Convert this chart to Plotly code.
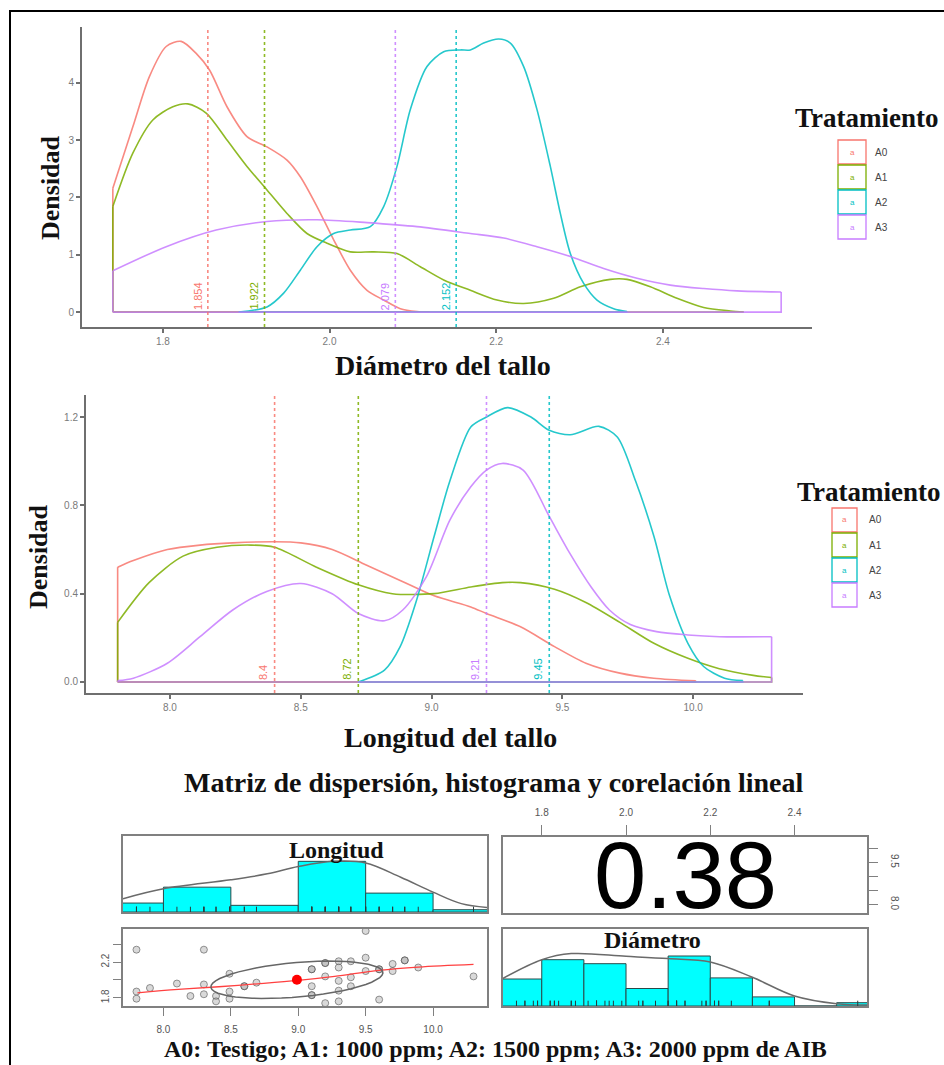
import numpy as np
import plotly.graph_objects as go

W, H = 944, 1065

treatments = ["A0", "A1", "A2", "A3"]
colors = ["#F8766D", "#7CAE00", "#00BFC4", "#C77CFF"]

# ---- Panel 1: density of stem diameter ----
diam_means = [1.854, 1.922, 2.152, 2.079]
diam_mean_labels = ["1.854", "1.922", "2.152", "2.079"]
d_A0_x = [1.740, 1.764, 1.784, 1.804, 1.822, 1.840, 1.856, 1.877, 1.901, 1.925, 1.949, 1.965, 1.985, 2.005, 2.025, 2.045, 2.065, 2.085, 2.105, 2.120]
d_A0_y = [2.16, 3.23, 4.11, 4.63, 4.72, 4.51, 4.22, 3.58, 3.06, 2.88, 2.65, 2.36, 1.84, 1.26, 0.73, 0.38, 0.21, 0.06, 0.01, 0.0]
d_A1_x = [1.740, 1.764, 1.788, 1.812, 1.830, 1.852, 1.877, 1.901, 1.925, 1.949, 1.973, 1.997, 2.025, 2.053, 2.081, 2.109, 2.137, 2.169, 2.201, 2.233, 2.269, 2.301, 2.337, 2.357, 2.385, 2.417, 2.449, 2.481, 2.497]
d_A1_y = [1.84, 2.77, 3.35, 3.58, 3.63, 3.47, 3.00, 2.54, 2.13, 1.72, 1.37, 1.20, 1.05, 1.05, 1.02, 0.79, 0.56, 0.38, 0.21, 0.15, 0.24, 0.44, 0.57, 0.57, 0.44, 0.24, 0.08, 0.02, 0.0]
d_A2_x = [1.891, 1.925, 1.945, 1.965, 1.985, 2.005, 2.025, 2.049, 2.065, 2.081, 2.097, 2.117, 2.137, 2.157, 2.169, 2.185, 2.203, 2.217, 2.233, 2.249, 2.265, 2.277, 2.289, 2.305, 2.321, 2.341, 2.357]
d_A2_y = [0.0, 0.09, 0.33, 0.73, 1.14, 1.37, 1.43, 1.49, 1.84, 2.54, 3.53, 4.28, 4.54, 4.57, 4.57, 4.69, 4.76, 4.69, 4.28, 3.53, 2.54, 1.72, 1.02, 0.50, 0.21, 0.06, 0.01]
d_A3_x = [1.740, 1.804, 1.864, 1.925, 1.985, 2.045, 2.105, 2.169, 2.209, 2.249, 2.289, 2.329, 2.369, 2.409, 2.449, 2.489, 2.542]
d_A3_y = [0.72, 1.14, 1.43, 1.58, 1.61, 1.56, 1.49, 1.37, 1.29, 1.14, 0.97, 0.76, 0.59, 0.47, 0.41, 0.37, 0.35]

# ---- Panel 2: density of stem length ----
long_means = [8.40, 8.72, 9.45, 9.21]
long_mean_labels = ["8.4", "8.72", "9.45", "9.21"]
l_A0_x = [7.80, 7.86, 7.99, 8.115, 8.24, 8.40, 8.50, 8.62, 8.75, 8.88, 9.01, 9.15, 9.21, 9.34, 9.47, 9.59, 9.72, 9.85, 10.01]
l_A0_y = [0.52, 0.55, 0.60, 0.62, 0.63, 0.635, 0.63, 0.60, 0.53, 0.46, 0.39, 0.34, 0.31, 0.25, 0.16, 0.085, 0.04, 0.017, 0.005]
l_A1_x = [7.80, 7.92, 8.05, 8.18, 8.31, 8.40, 8.56, 8.72, 8.85, 9.01, 9.15, 9.27, 9.34, 9.47, 9.59, 9.72, 9.85, 9.98, 10.10, 10.23, 10.30]
l_A1_y = [0.27, 0.45, 0.57, 0.61, 0.62, 0.61, 0.52, 0.44, 0.40, 0.40, 0.43, 0.45, 0.45, 0.42, 0.36, 0.27, 0.175, 0.107, 0.06, 0.03, 0.02]
l_A2_x = [8.72, 8.82, 8.88, 8.94, 9.01, 9.07, 9.15, 9.21, 9.29, 9.38, 9.45, 9.53, 9.64, 9.71, 9.78, 9.85, 9.91, 9.98, 10.04, 10.12, 10.19]
l_A2_y = [0.0, 0.054, 0.16, 0.36, 0.66, 0.91, 1.155, 1.20, 1.243, 1.20, 1.14, 1.12, 1.158, 1.11, 0.91, 0.66, 0.39, 0.175, 0.07, 0.017, 0.006]
l_A3_x = [7.80, 7.86, 7.99, 8.115, 8.24, 8.37, 8.50, 8.62, 8.72, 8.82, 8.89, 8.98, 9.07, 9.15, 9.21, 9.27, 9.35, 9.45, 9.53, 9.61, 9.68, 9.76, 9.86, 9.98, 10.10, 10.30]
l_A3_y = [0.006, 0.017, 0.085, 0.205, 0.326, 0.41, 0.446, 0.40, 0.31, 0.277, 0.326, 0.476, 0.733, 0.884, 0.96, 0.99, 0.96, 0.75, 0.58, 0.43, 0.326, 0.26, 0.228, 0.213, 0.205, 0.205]

diam_ticks = [1.8, 2.0, 2.2, 2.4]
diam_dens_ticks = [0, 1, 2, 3, 4]
long_ticks = [8.0, 8.5, 9.0, 9.5, 10.0]
long_dens_ticks = [0.0, 0.4, 0.8, 1.2]

# ---- Pairs panels ----
long_bin_edges = [7.5, 8.0, 8.5, 9.0, 9.5, 10.0, 10.5]
long_hist = [0.9, 2.5, 0.67, 5.1, 1.9, 0.23]
long_dens_x = [7.70, 8.0, 8.5, 8.77, 9.0, 9.26, 9.5, 9.76, 10.0, 10.21, 10.41]
long_dens_y = [1.34, 2.34, 3.24, 3.84, 4.57, 5.1, 4.94, 3.5, 2.0, 0.84, 0.44]

diam_bin_edges = [1.7, 1.8, 1.9, 2.0, 2.1, 2.2, 2.3, 2.4, 2.5, 2.6]
diam_hist = [2.7, 4.63, 4.23, 1.75, 5.0, 2.81, 0.91, 0.0, 0.33]
diam_dens_x = [1.707, 1.80, 1.87, 2.0, 2.1, 2.2, 2.3, 2.4, 2.5, 2.577]
diam_dens_y = [2.74, 4.63, 5.24, 4.97, 4.74, 4.4, 2.87, 1.0, 0.23, 0.1]

scat_long = [7.80, 7.80, 7.80, 7.90, 8.10, 8.20, 8.30, 8.30, 8.30, 8.39, 8.39, 8.49, 8.49, 8.49,
             8.60, 8.60, 8.69, 9.10, 9.10, 9.10, 9.10, 9.10, 9.20, 9.20, 9.20, 9.20, 9.30, 9.30, 9.30,
             9.30, 9.30, 9.39, 9.39, 9.39, 9.50, 9.50, 9.50, 9.60, 9.60, 9.60, 9.70, 9.70, 9.79, 9.79,
             9.89, 10.30]
scat_diam = [2.34, 1.87, 1.79, 1.91, 1.96, 1.82, 2.34, 1.95, 1.84, 1.82, 1.76, 2.07, 1.87, 1.79,
             1.93, 1.93, 1.97, 2.12, 2.12, 1.93, 1.83, 1.83, 2.19, 2.19, 2.04, 1.74, 2.21, 2.14, 1.99,
             1.88, 1.76, 2.21, 2.03, 1.93, 2.55, 2.25, 2.10, 2.12, 2.12, 1.78, 2.18, 2.10, 2.22, 2.22,
             2.14, 2.04]
smooth_long = [7.807, 8.11, 8.41, 8.70, 9.0, 9.27, 9.60, 9.89, 10.30]
smooth_diam = [1.856, 1.894, 1.924, 1.957, 1.995, 2.04, 2.108, 2.145, 2.175]
mean_long, mean_diam = 8.99, 2.002
sd_long, sd_diam = 0.638, 0.21
r_corr = 0.38

# ---------------------------------------------------------------
SERIF = "Liberation Serif"
SANS = "Liberation Sans"
AX = "#6f6f6f"
TK = "#7a7a7a"
BOX = "#808080"


def xd(a, b):
    return [a / W, b / W]


def yd(top, bot):
    return [1 - bot / H, 1 - top / H]


fig = go.Figure()


def add_density(xs, ys, c, xa, ya):
    # outline closure (vertical edges + baseline)
    fig.add_trace(go.Scatter(x=[xs[0], xs[0], None, xs[-1], xs[-1], xs[0]],
                             y=[ys[0], 0, None, ys[-1], 0, 0], mode="lines",
                             line=dict(color=c, width=1.6), opacity=0.85, showlegend=False,
                             xaxis=xa, yaxis=ya, connectgaps=False))
    fig.add_trace(go.Scatter(x=xs, y=ys, mode="lines", line=dict(color=c, width=1.6, shape="spline", smoothing=0.8),
                             opacity=0.85, showlegend=False, xaxis=xa, yaxis=ya))


diam_curves = [(d_A0_x, d_A0_y), (d_A1_x, d_A1_y), (d_A2_x, d_A2_y), (d_A3_x, d_A3_y)]
long_curves = [(l_A0_x, l_A0_y), (l_A1_x, l_A1_y), (l_A2_x, l_A2_y), (l_A3_x, l_A3_y)]

for c, (xs, ys) in zip(colors, diam_curves):
    add_density(xs, ys, c, "x", "y")
for c, (xs, ys) in zip(colors, long_curves):
    add_density(xs, ys, c, "x2", "y2")

shapes = []
annotations = []

for m, lbl, c in zip(diam_means, diam_mean_labels, colors):
    shapes.append(dict(type="line", xref="x", yref="y domain", x0=m, x1=m, y0=0, y1=1,
                       line=dict(color=c, width=1.6, dash="dot"), opacity=0.85))
    annotations.append(dict(xref="x", yref="y", x=m, y=0, text=lbl, showarrow=False,
                            textangle=-90, xanchor="right", yanchor="bottom", xshift=-2,
                            font=dict(family=SANS, size=11, color=c)))
for m, lbl, c in zip(long_means, long_mean_labels, colors):
    shapes.append(dict(type="line", xref="x2", yref="y2 domain", x0=m, x1=m, y0=0, y1=1,
                       line=dict(color=c, width=1.6, dash="dot"), opacity=0.85))
    annotations.append(dict(xref="x2", yref="y2", x=m, y=0, text=lbl, showarrow=False,
                            textangle=-90, xanchor="right", yanchor="bottom", xshift=-3,
                            font=dict(family=SANS, size=11, color=c)))

# ---- histograms ----
lc = [(a + b) / 2 for a, b in zip(long_bin_edges[:-1], long_bin_edges[1:])]
lw = [b - a for a, b in zip(long_bin_edges[:-1], long_bin_edges[1:])]
fig.add_trace(go.Bar(x=lc, y=long_hist, width=lw, marker=dict(color="#00FFFF", line=dict(color="#2a4a4a", width=1)),
                     showlegend=False, xaxis="x3", yaxis="y3"))
fig.add_trace(go.Scatter(x=long_dens_x, y=long_dens_y, mode="lines", line=dict(color="#6a6a6a", width=1.5, shape="spline"),
                         showlegend=False, xaxis="x3", yaxis="y3"))
fig.add_trace(go.Scatter(x=scat_long, y=[0.25] * len(scat_long), mode="markers",
                         marker=dict(symbol="line-ns-open", size=4, color="#2a3a3a", line=dict(color="#2a3a3a", width=1)),
                         showlegend=False, xaxis="x3", yaxis="y3"))

dc = [(a + b) / 2 for a, b in zip(diam_bin_edges[:-1], diam_bin_edges[1:])]
dw = [b - a for a, b in zip(diam_bin_edges[:-1], diam_bin_edges[1:])]
fig.add_trace(go.Bar(x=dc, y=diam_hist, width=dw, marker=dict(color="#00FFFF", line=dict(color="#2a4a4a", width=1)),
                     showlegend=False, xaxis="x6", yaxis="y6"))
fig.add_trace(go.Scatter(x=diam_dens_x, y=diam_dens_y, mode="lines", line=dict(color="#6a6a6a", width=1.5, shape="spline"),
                         showlegend=False, xaxis="x6", yaxis="y6"))
fig.add_trace(go.Scatter(x=scat_diam, y=[0.25] * len(scat_diam), mode="markers",
                         marker=dict(symbol="line-ns-open", size=4, color="#2a3a3a", line=dict(color="#2a3a3a", width=1)),
                         showlegend=False, xaxis="x6", yaxis="y6"))

# ---- scatter panel ----
fig.add_trace(go.Scatter(x=scat_long, y=scat_diam, mode="markers",
                         marker=dict(symbol="circle", size=7, color="rgba(170,170,170,0.45)",
                                     line=dict(color="rgba(70,70,70,0.55)", width=1)),
                         showlegend=False, xaxis="x5", yaxis="y5"))
fig.add_trace(go.Scatter(x=smooth_long, y=smooth_diam, mode="lines", line=dict(color="#ff4040", width=1.3, shape="spline"),
                         showlegend=False, xaxis="x5", yaxis="y5"))
ang = np.linspace(0, 2 * np.pi, 52)
theta = np.sign(r_corr) / np.sqrt(2)
shape_m = np.diag([np.sqrt(1 + r_corr), np.sqrt(1 - r_corr)]) @ np.array([[theta, theta], [-theta, theta]])
ell = np.column_stack([np.cos(ang), np.sin(ang)]) @ shape_m
fig.add_trace(go.Scatter(x=ell[:, 0] * sd_long + mean_long, y=ell[:, 1] * sd_diam + mean_diam, mode="lines",
                         line=dict(color="#666", width=1.5), showlegend=False, xaxis="x5", yaxis="y5"))
fig.add_trace(go.Scatter(x=[mean_long], y=[mean_diam], mode="markers", marker=dict(color="#ff0000", size=10),
                         showlegend=False, xaxis="x5", yaxis="y5"))

# correlation panel (axes only + text)
fig.add_trace(go.Scatter(x=[None], y=[None], mode="markers", showlegend=False, hoverinfo="skip",
                         xaxis="x4", yaxis="y4"))
annotations.append(dict(xref="x4 domain", yref="y4 domain", x=0.5, y=0.5, text=f"{r_corr:.2f}",
                        showarrow=False, xanchor="center", yanchor="middle",
                        font=dict(family=SANS, size=94, color="#000")))


# ---- axes ----
def dens_x(dom, rng, ticks, fmt):
    return dict(domain=dom, range=rng, showline=True, linecolor=AX, linewidth=2, ticks="outside", ticklen=4,
                tickcolor=AX, tickwidth=1.5, tickvals=ticks, ticktext=[fmt.format(v) for v in ticks],
                tickfont=dict(family=SANS, size=10, color=TK), showgrid=False, zeroline=False)


def box_axis(dom, rng, **kw):
    d = dict(domain=dom, range=rng, showline=True, mirror=True, linecolor=BOX, linewidth=1.5,
             showgrid=False, zeroline=False, ticks="", showticklabels=False)
    d.update(kw)
    return d


tick_kw = dict(ticks="outside", tickcolor=BOX, tickwidth=1, showticklabels=True,
               tickfont=dict(family=SANS, size=10, color="#555"))

fig.update_layout(
    width=W, height=H, margin=dict(l=0, r=0, t=0, b=0),
    paper_bgcolor="white", plot_bgcolor="white", barmode="overlay", showlegend=False,
    xaxis=dict(dens_x(xd(82, 812), [1.703, 2.579], diam_ticks, "{:.1f}"), anchor="y"),
    yaxis=dict(dens_x(yd(27, 327), [-0.26, 4.97], diam_dens_ticks, "{:d}"), anchor="x"),
    xaxis2=dict(dens_x(xd(86, 803), [7.679, 10.42], long_ticks, "{:.1f}"), anchor="y2"),
    yaxis2=dict(dens_x(yd(395, 693), [-0.05, 1.30], long_dens_ticks, "{:.1f}"), anchor="x2"),
    xaxis3=box_axis(xd(123, 487), [7.7, 10.4], anchor="y3"),
    yaxis3=box_axis(yd(836, 912), [0, 7.65], anchor="x3"),
    xaxis4=box_axis(xd(503, 867), [1.708, 2.572], anchor="y4", side="top", tickvals=diam_ticks,
                    ticktext=["{:.1f}".format(v) for v in diam_ticks], ticklen=10, ticklabelstandoff=5, **tick_kw),
    yaxis4=box_axis(yd(837, 913), [7.7, 10.4], anchor="x4", side="right", tickvals=long_ticks,
                    ticktext=["8.0", "", "", "9.5", ""], ticklen=9, tickangle=90, ticklabelstandoff=9, **tick_kw),
    xaxis5=box_axis(xd(123, 487), [7.7, 10.4], anchor="y5", tickvals=long_ticks,
                    ticktext=["{:.1f}".format(v) for v in long_ticks], ticklen=8, ticklabelstandoff=5, **tick_kw),
    yaxis5=box_axis(yd(929, 1006), [1.708, 2.572], anchor="x5", tickvals=diam_ticks,
                    ticktext=["1.8", "", "2.2", ""], ticklen=8, tickangle=-90, **tick_kw),
    xaxis6=box_axis(xd(503, 867), [1.708, 2.572], anchor="y6"),
    yaxis6=box_axis(yd(929, 1006), [0, 7.7], anchor="x6"),
)


def ann(text, px, py, size, xanchor="center", yanchor="middle", angle=0, family=SERIF, color="#111", bold=True):
    return dict(xref="paper", yref="paper", x=px / W, y=1 - py / H, text=f"<b>{text}</b>" if bold else text,
                showarrow=False, xanchor=xanchor, yanchor=yanchor, textangle=angle,
                font=dict(family=family, size=size, color=color))


annotations += [
    ann("Densidad", 50, 188, 26, angle=-90),
    ann("Densidad", 38, 557, 26, angle=-90),
    ann("Diámetro del tallo", 443, 365, 28),
    ann("Longitud del tallo", 450, 737, 28),
    ann("Matriz de dispersión, histograma y corelación lineal", 494, 782, 28),
    ann("Longitud", 336, 850, 24),
    ann("Diámetro", 652, 940, 24),
    ann("A0: Testigo; A1: 1000 ppm; A2: 1500 ppm; A3: 2000 ppm de AIB", 495, 1064, 24, yanchor="bottom"),
    ann("Tratamiento", 793, 118, 27, xanchor="left"),
    ann("Tratamiento", 795, 492, 27, xanchor="left"),
]

# legend keys
for (x0, x1, lx, rows) in [(838, 866, 873, [152, 177, 202, 227]), (832, 857, 867, [520, 545, 570, 595])]:
    for t, c, cy in zip(treatments, colors, rows):
        shapes.append(dict(type="rect", xref="paper", yref="paper", x0=x0 / W, x1=x1 / W,
                           y0=1 - (cy + 12) / H, y1=1 - (cy - 12) / H, line=dict(color=c, width=1.3),
                           fillcolor="rgba(0,0,0,0)"))
        annotations.append(ann("a", (x0 + x1) / 2, cy, 8, family=SANS, color=c, bold=False))
        annotations.append(ann(t, lx, cy, 10, xanchor="left", family=SANS, color="#444", bold=False))

# outer frame
shapes.append(dict(type="rect", xref="paper", yref="paper", x0=10 / W, x1=1.02, y0=-0.02, y1=1 - 11 / H,
                   line=dict(color="#000", width=2), fillcolor="rgba(0,0,0,0)"))

fig.update_layout(shapes=shapes, annotations=annotations)
fig.write_html("out.html", config={"displayModeBar": False},
               post_script="document.body.style.margin='0';document.body.style.overflow='hidden';")
